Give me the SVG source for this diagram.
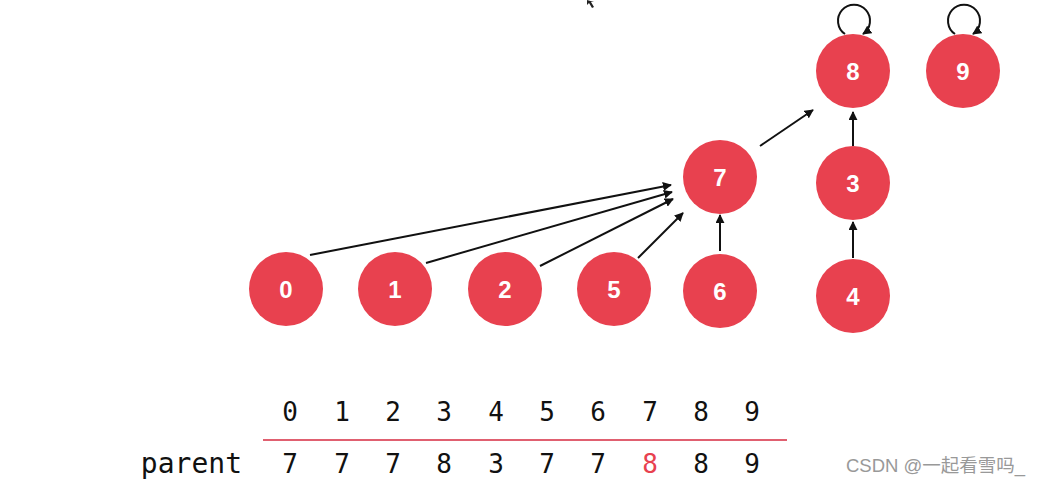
<svg xmlns="http://www.w3.org/2000/svg" width="1043" height="483" viewBox="0 0 1043 483">
<style>
.node circle{fill:#e8414f}
.node text{fill:#fff;font-family:"Liberation Sans",Arial,sans-serif;font-weight:bold;font-size:24px;text-anchor:middle}
.edge{stroke:#111;stroke-width:2;fill:none;marker-end:url(#ah)}
.tb{font-family:"DejaVu Sans Mono","Liberation Mono",monospace;font-size:26px;fill:#111;text-anchor:middle}
</style>
<defs>
<marker id="ah" viewBox="0 0 10 10" refX="9" refY="5" markerWidth="9" markerHeight="9" orient="auto" markerUnits="userSpaceOnUse">
<path d="M0,0 L10,5 L0,10 z" fill="#111"/>
</marker>
</defs>
<rect width="1043" height="483" fill="#fff"/>
<g id="connectors">
<line class="edge" x1="310" y1="255" x2="671" y2="185"/>
<line class="edge" x1="426" y1="263" x2="672" y2="192"/>
<line class="edge" x1="540" y1="266" x2="673" y2="199"/>
<line class="edge" x1="638" y1="258" x2="683" y2="213"/>
<line class="edge" x1="720" y1="251" x2="720" y2="215"/>
<line class="edge" x1="760" y1="146" x2="813" y2="110"/>
<line class="edge" x1="853" y1="146" x2="853" y2="112"/>
<line class="edge" x1="853" y1="258" x2="853" y2="222"/>
<path class="edge" d="M845,34 A16,16 0 1 1 863,34"/>
<path class="edge" d="M955,34 A16,16 0 1 1 973,34"/>
</g>
<g id="n0" class="node"><circle cx="286" cy="289" r="37"/><text x="286" y="298">0</text></g>
<g id="n1" class="node"><circle cx="395" cy="289" r="37"/><text x="395" y="298">1</text></g>
<g id="n2" class="node"><circle cx="505" cy="289" r="37"/><text x="505" y="298">2</text></g>
<g id="n5" class="node"><circle cx="614" cy="289" r="37"/><text x="614" y="298">5</text></g>
<g id="n6" class="node"><circle cx="720" cy="291" r="37"/><text x="720" y="300">6</text></g>
<g id="n7" class="node"><circle cx="720" cy="177" r="37"/><text x="720" y="186">7</text></g>
<g id="n4" class="node"><circle cx="853" cy="296" r="37"/><text x="853" y="305">4</text></g>
<g id="n3" class="node"><circle cx="853" cy="183" r="37"/><text x="853" y="192">3</text></g>
<g id="n8" class="node"><circle cx="853" cy="71" r="37"/><text x="853" y="80">8</text></g>
<g id="n9" class="node"><circle cx="963" cy="71" r="37"/><text x="963" y="80">9</text></g>
<g id="table">
<text class="tb" x="290" y="421">0</text>
<text class="tb" x="342" y="421">1</text>
<text class="tb" x="393" y="421">2</text>
<text class="tb" x="444" y="421">3</text>
<text class="tb" x="496" y="421">4</text>
<text class="tb" x="547" y="421">5</text>
<text class="tb" x="598" y="421">6</text>
<text class="tb" x="650" y="421">7</text>
<text class="tb" x="701" y="421">8</text>
<text class="tb" x="752" y="421">9</text>
<line x1="263" y1="440" x2="787" y2="440" stroke="#e06070" stroke-width="2"/>
<text class="tb" x="242" y="473" style="text-anchor:end;font-size:28px">parent</text>
<text class="tb" x="290" y="473">7</text>
<text class="tb" x="342" y="473">7</text>
<text class="tb" x="393" y="473">7</text>
<text class="tb" x="444" y="473">8</text>
<text class="tb" x="496" y="473">3</text>
<text class="tb" x="547" y="473">7</text>
<text class="tb" x="598" y="473">7</text>
<text class="tb" x="650" y="473" style="fill:#e8414f">8</text>
<text class="tb" x="701" y="473">8</text>
<text class="tb" x="752" y="473">9</text>
</g>
<path d="M587,0 L587,5 L589,3 L592,8 L594,7 L591,2 L594,2 Z" fill="#222"/>
<text x="846" y="472" font-family="'Liberation Sans','Noto Sans CJK SC',sans-serif" font-size="18.5" fill="#999">CSDN @一起看雪吗_</text>
</svg>
